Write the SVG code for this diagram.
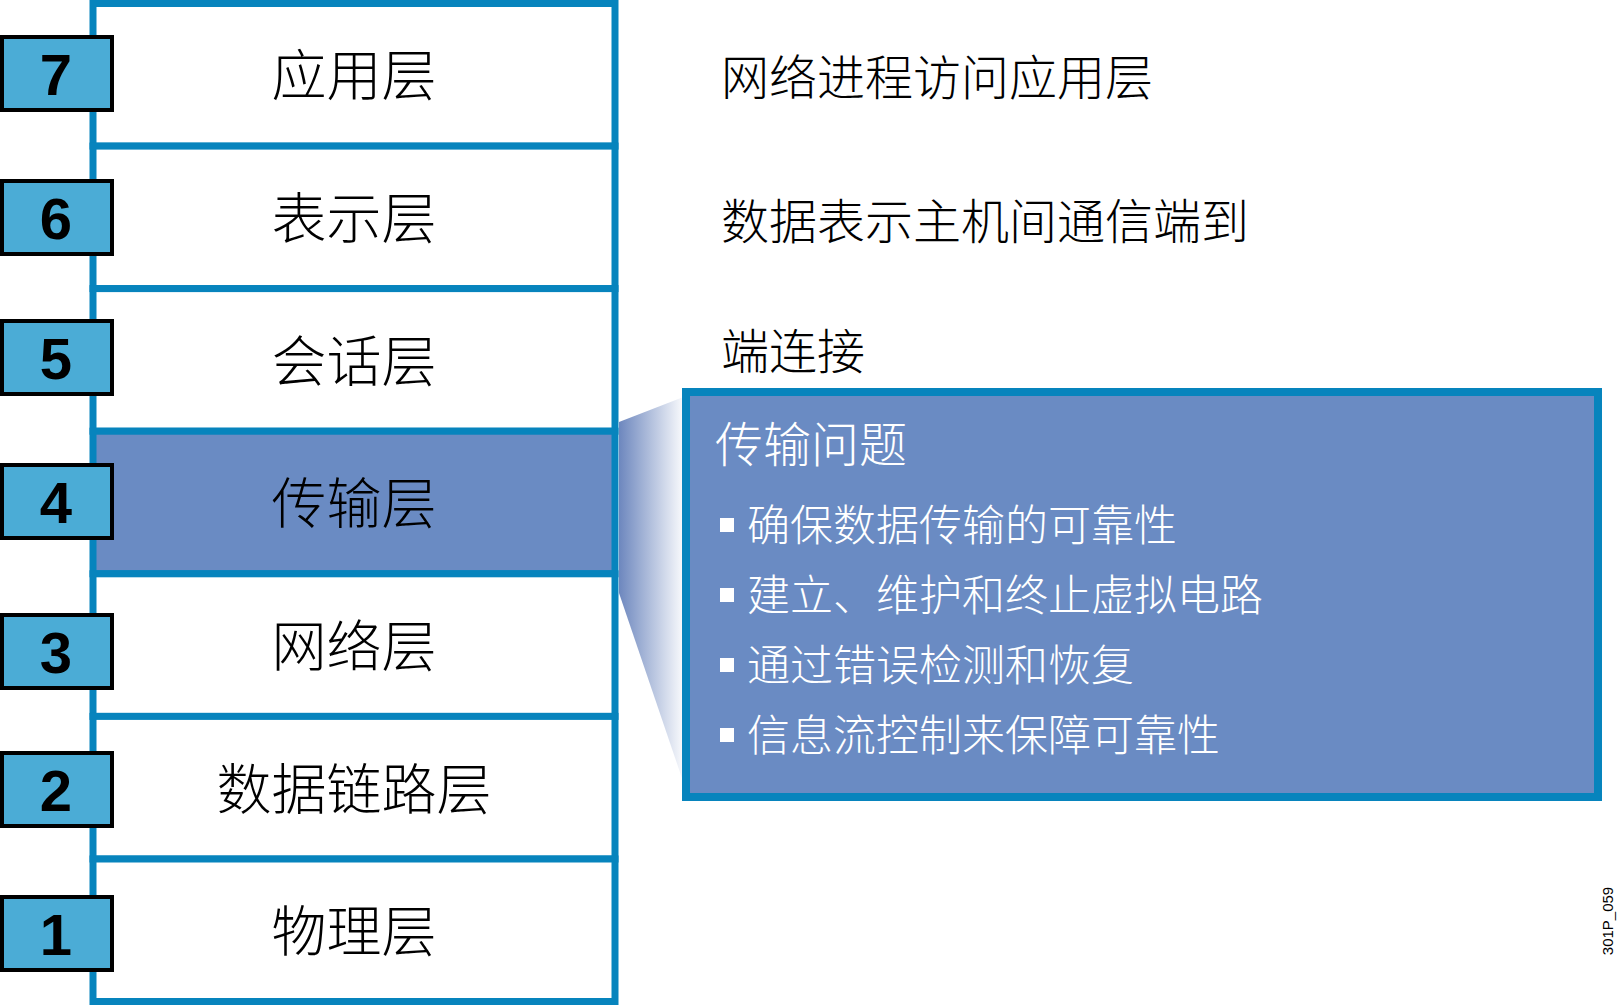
<svg xmlns="http://www.w3.org/2000/svg" width="1617" height="1007" viewBox="0 0 1617 1007">
<defs>
<linearGradient id="funnelGrad" x1="0" y1="0" x2="1" y2="0">
<stop offset="0" stop-color="#6D87BE"/>
<stop offset="1" stop-color="#FFFFFF"/>
</linearGradient>
<style>
.layer{fill:#FFFFFF;stroke:#0784BD;stroke-width:7}
.layer.hl{fill:#6A8BC3}
.num{fill:#4BACD6;stroke:#000000;stroke-width:4}
.numt{font-family:"Liberation Sans",Arial,sans-serif;font-weight:bold;font-size:58px;fill:#000000;text-anchor:middle}
.lt{font-family:"Noto Sans CJK SC","Noto Sans",sans-serif;font-weight:300;font-size:55px;fill:#000000;text-anchor:middle}
.rt{font-family:"Noto Sans CJK SC","Noto Sans",sans-serif;font-weight:300;font-size:48px;fill:#000000}
.ct{font-family:"Noto Sans CJK SC","Noto Sans",sans-serif;font-weight:300;font-size:48px;fill:#FFFFFF}
.bt{font-family:"Noto Sans CJK SC","Noto Sans",sans-serif;font-weight:300;font-size:43px;fill:#FFFFFF}
.bul{fill:#FFFFFF}
.code{font-family:"Liberation Sans",Arial,sans-serif;font-size:15px;fill:#000000;text-anchor:middle}
</style>
</defs>
<rect width="1617" height="1007" fill="#FFFFFF"/>

<g id="connectors">
<polygon points="619,422 686,396 686,790 619,593" fill="url(#funnelGrad)"/>
</g>

<g id="layer7">
<rect class="layer" x="93" y="3.5" width="522" height="142.6"/>
<text class="lt" x="354" y="95">应用层</text>
</g>
<g id="layer6">
<rect class="layer" x="93" y="146.1" width="522" height="142.5"/>
<text class="lt" x="354" y="238">表示层</text>
</g>
<g id="layer5">
<rect class="layer" x="93" y="288.6" width="522" height="142.6"/>
<text class="lt" x="354" y="381">会话层</text>
</g>
<g id="layer4">
<rect class="layer hl" x="93" y="431.2" width="522" height="142.6"/>
<text class="lt" x="354" y="523">传输层</text>
</g>
<g id="layer3">
<rect class="layer" x="93" y="573.8" width="522" height="142.6"/>
<text class="lt" x="354" y="666">网络层</text>
</g>
<g id="layer2">
<rect class="layer" x="93" y="716.4" width="522" height="142.6"/>
<text class="lt" x="354" y="809">数据链路层</text>
</g>
<g id="layer1">
<rect class="layer" x="93" y="859" width="522" height="142.5"/>
<text class="lt" x="354" y="951">物理层</text>
</g>

<g id="num7"><rect class="num" x="2" y="37" width="110" height="73"/><text class="numt" x="56" y="95">7</text></g>
<g id="num6"><rect class="num" x="2" y="181" width="110" height="73"/><text class="numt" x="56" y="239">6</text></g>
<g id="num5"><rect class="num" x="2" y="321" width="110" height="73"/><text class="numt" x="56" y="379">5</text></g>
<g id="num4"><rect class="num" x="2" y="465" width="110" height="73"/><text class="numt" x="56" y="523">4</text></g>
<g id="num3"><rect class="num" x="2" y="615" width="110" height="73"/><text class="numt" x="56" y="673">3</text></g>
<g id="num2"><rect class="num" x="2" y="753" width="110" height="73"/><text class="numt" x="56" y="811">2</text></g>
<g id="num1"><rect class="num" x="2" y="897" width="110" height="73"/><text class="numt" x="56" y="955">1</text></g>

<g id="description">
<text class="rt" x="721" y="95">网络进程访问应用层</text>
<text class="rt" x="721" y="239">数据表示主机间通信端到</text>
<text class="rt" x="721" y="369">端连接</text>
</g>

<g id="callout">
<rect x="686" y="392" width="912" height="405" fill="#6A8BC3" stroke="#0784BD" stroke-width="8"/>
<text class="ct" x="715" y="462">传输问题</text>
<rect class="bul" x="720" y="518" width="14" height="14"/>
<text class="bt" x="747" y="541">确保数据传输的可靠性</text>
<rect class="bul" x="720" y="588" width="14" height="14"/>
<text class="bt" x="747" y="611">建立、维护和终止虚拟电路</text>
<rect class="bul" x="720" y="658" width="14" height="14"/>
<text class="bt" x="747" y="681">通过错误检测和恢复</text>
<rect class="bul" x="720" y="728" width="14" height="14"/>
<text class="bt" x="747" y="751">信息流控制来保障可靠性</text>
</g>

<text class="code" transform="translate(1613,921) rotate(-90)">301P_059</text>
</svg>
